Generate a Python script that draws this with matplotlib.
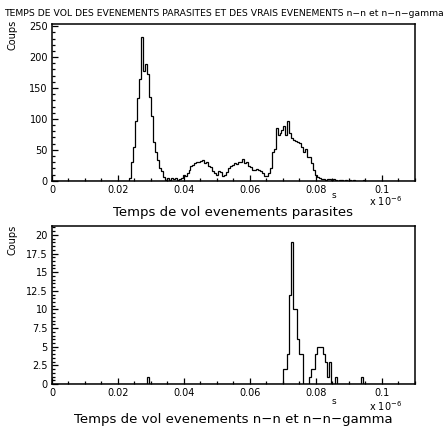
import numpy as np
import matplotlib
matplotlib.use("Agg")
import matplotlib.pyplot as plt
from matplotlib.ticker import MultipleLocator, FixedLocator

# ---------------- data ----------------
bin_width = 0.0006          # x unit: 1e-6 s
top_first_bin = 39
top_counts = [5, 31, 54, 96, 134, 165, 232, 177, 188, 173, 136, 104, 63, 47, 34, 20, 15, 6,
              1, 4, 1, 5, 2, 4, 1, 3, 4,
              9, 7, 12, 17, 23, 26, 29, 31, 30, 32, 33, 28, 31, 24, 22, 16, 13, 10, 15, 14,
              7, 9, 14, 20, 23, 25, 28, 27, 31, 30, 35, 28, 30, 24, 22, 17, 18, 19, 17, 15,
              12, 8, 8, 12, 20, 47, 52, 85, 74, 77, 82, 88, 74, 96, 77, 69, 66, 64, 63, 61,
              55, 47, 52, 39, 38, 28, 17, 9, 6, 4, 3, 2, 1, 2, 3, 1, 2, 1, 0, 1, 1, 0, 1, 0,
              1, 0, 1, 0, 0, 0, 0, 1]
bottom_bins = [48, 117, 118, 119, 120, 121, 122, 123, 124, 125, 126,
               130, 131, 132, 133, 134, 135, 136, 137, 138, 139, 140, 143, 156]
bottom_counts = [1, 2, 2, 4, 12, 19, 10, 10, 6, 4, 4,
                 1, 2, 2, 4, 5, 5, 5, 4, 3, 1, 3, 1, 1]
x_ticks = [0, 0.02, 0.04, 0.06, 0.08, 0.1]
x_tick_labels = ["0", "0.02", "0.04", "0.06", "0.08", "0.1"]
top_yticks = [0, 50, 100, 150, 200, 250]
bottom_yticks = [0, 2.5, 5, 7.5, 10, 12.5, 15, 17.5, 20]
bottom_ytick_labels = ["0", "2.5", "5", "7.5", "10", "12.5", "15", "17.5", "20"]

n_bins = 200
edges = np.arange(n_bins + 1) * bin_width
top_full = np.zeros(n_bins)
top_full[top_first_bin:top_first_bin + len(top_counts)] = top_counts
bottom_full = np.zeros(n_bins)
bottom_full[bottom_bins] = bottom_counts

# ---------------- figure ----------------
plt.rcParams['font.family'] = ['DejaVu Sans']
fig = plt.figure(figsize=(4.44, 4.29), dpi=100)
W, H = 444, 429

def axes_px(l, r, t, b):
    return fig.add_axes([l / W, 1 - b / H, (r - l) / W, (b - t) / H])

ax1 = axes_px(52, 414.7, 24.3, 180.7)
ax2 = axes_px(52, 414.7, 226, 384)

def style(ax, values, ymax, ymajor, yminor):
    ax.stairs(values, edges, color='black', lw=0.9)
    ax.set_xlim(0, 0.11)
    ax.set_ylim(0, ymax)
    for s in ax.spines.values():
        s.set_linewidth(1.1)
    ax.xaxis.set_major_locator(FixedLocator(x_ticks))
    ax.set_xticklabels(x_tick_labels)
    ax.xaxis.set_minor_locator(MultipleLocator(0.005))
    ax.yaxis.set_major_locator(FixedLocator(ymajor))
    ax.yaxis.set_minor_locator(MultipleLocator(yminor))
    ax.tick_params(which='both', direction='in', top=False, right=False,
                   labelsize=7, width=0.9)
    ax.tick_params(which='major', length=4.5, pad=3)
    ax.tick_params(which='minor', length=2.3)

style(ax1, top_full, 253, top_yticks, 10)
style(ax2, bottom_full, 21.2, bottom_yticks, 0.5)
ax2.set_yticklabels(bottom_ytick_labels)

# texts
fig.text(4 / W, 1 - 14 / H,
         "TEMPS DE VOL DES EVENEMENTS PARASITES ET DES VRAIS EVENEMENTS n\u2212n et n\u2212n\u2212gamma",
         fontsize=6.65, ha='left', va='center')
for (ycoups, yt, ys, yx, sub) in [
        (35, 213, 195, 201, "Temps de vol evenements parasites"),
        (240, 419.5, 401, 406, "Temps de vol evenements n\u2212n et n\u2212n\u2212gamma")]:
    fig.text(13 / W, 1 - ycoups / H, "Coups", rotation=90, fontsize=7,
             ha='center', va='center')
    fig.text(233.4 / W, 1 - yt / H, sub, fontsize=9.5, ha='center', va='center')
    fig.text(334 / W, 1 - ys / H, "s", fontsize=6.5, ha='center', va='center')
    fig.text(369 / W, 1 - yx / H, r"x 10$^{-6}$", fontsize=7, ha='left', va='center')

fig.savefig("out.png", dpi=100)
